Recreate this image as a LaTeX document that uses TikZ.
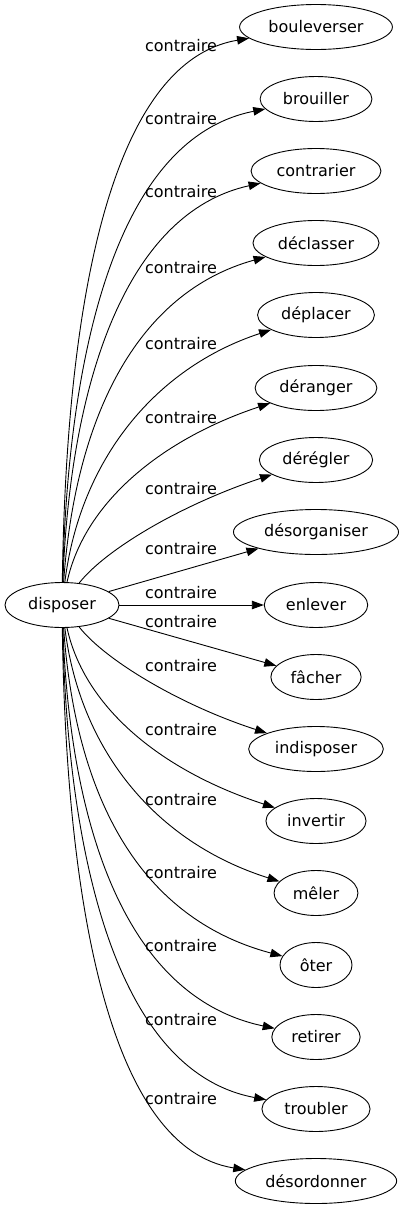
\documentclass[tikz,border=0pt]{standalone}
\usepackage{fontspec}
\setmainfont{DejaVu Sans}
\usetikzlibrary{arrows.meta,shapes.geometric}
\begin{document}
\begin{tikzpicture}[x=1pt,y=-1pt,
  word/.style={draw, ellipse, line width=0.9pt, inner xsep=6.5pt, inner ysep=3pt,
    minimum height=45pt, minimum width=72pt, font=\fontsize{16}{19}\selectfont},
  rel/.style={font=\fontsize{16}{19}\selectfont, inner sep=0pt},
  link/.style={line width=0.9pt, -{Triangle[length=12pt,width=8.5pt]}}]
\useasboundingbox (0,0) rectangle (402,1211);
\node[word] (d) at (62,605) {disposer};
\node[word] (t0) at (316,27) {bouleverser};
\node[word] (t1) at (316,99) {brouiller};
\node[word] (t2) at (316,171) {contrarier};
\node[word] (t3) at (316,243) {déclasser};
\node[word] (t4) at (316,315) {déplacer};
\node[word] (t5) at (316,388) {déranger};
\node[word] (t6) at (316,460) {dérégler};
\node[word] (t7) at (316,532) {désorganiser};
\node[word] (t8) at (316,605) {enlever};
\node[word] (t9) at (316,677) {fâcher};
\node[word] (t10) at (316,749) {indisposer};
\node[word] (t11) at (316,821) {invertir};
\node[word] (t12) at (316,893) {mêler};
\node[word] (t13) at (316,965) {ôter};
\node[word] (t14) at (316,1037) {retirer};
\node[word] (t15) at (316,1109) {troubler};
\node[word] (t16) at (316,1181) {désordonner};
% labels
\node[rel] (l0) at (181,46) {contraire};
\node[rel] (l1) at (181,119) {contraire};
\node[rel] (l2) at (181,192) {contraire};
\node[rel] (l3) at (181,268) {contraire};
\node[rel] (l4) at (181,344) {contraire};
\node[rel] (l5) at (181,418) {contraire};
\node[rel] (l6) at (181,489) {contraire};
\node[rel] (l7) at (181,549) {contraire};
\node[rel] (l8) at (181,593) {contraire};
\node[rel] (l9) at (181,622) {contraire};
\node[rel] (l10) at (181,666) {contraire};
\node[rel] (l11) at (181,730) {contraire};
\node[rel] (l12) at (181,800) {contraire};
\node[rel] (l13) at (181,873) {contraire};
\node[rel] (l14) at (181,946) {contraire};
\node[rel] (l15) at (181,1020) {contraire};
\node[rel] (l16) at (181,1099) {contraire};
% edges
\draw[link] (d) .. controls (66,312) and (108,62) .. (t0);
\draw[link] (d) .. controls (68,348) and (118,138) .. (t1);
\draw[link] (d) .. controls (70,385) and (125,213) .. (t2);
\draw[link] (d) .. controls (75,420) and (135,293) .. (t3);
\draw[link] (d) .. controls (80,460) and (155,368) .. (t4);
\draw[link] (d) .. controls (85,500) and (165,438) .. (t5);
\draw[link] (d) .. controls (105,550) and (180,505) .. (t6);
\draw[link] (d) -- (t7);
\draw[link] (d) -- (t8);
\draw[link] (d) -- (t9);
\draw[link] (d) .. controls (105,660) and (180,705) .. (t10);
\draw[link] (d) .. controls (85,710) and (165,772) .. (t11);
\draw[link] (d) .. controls (80,750) and (155,842) .. (t12);
\draw[link] (d) .. controls (75,790) and (135,917) .. (t13);
\draw[link] (d) .. controls (70,825) and (125,997) .. (t14);
\draw[link] (d) .. controls (68,862) and (118,1072) .. (t15);
\draw[link] (d) .. controls (66,898) and (108,1148) .. (t16);
\end{tikzpicture}
\end{document}
